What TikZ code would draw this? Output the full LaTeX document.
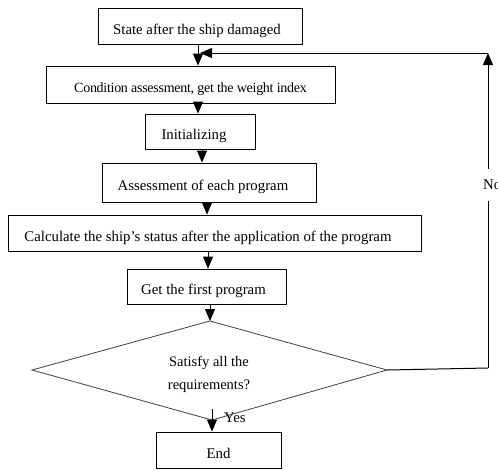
\documentclass[tikz,border=0pt]{standalone}
\usepackage{fontspec}
\setmainfont{Liberation Serif}
\usetikzlibrary{arrows.meta}
\begin{document}
\begin{tikzpicture}[x=1pt,y=-1pt,
  box/.style={draw=black,line width=0.9pt,minimum width=#1,inner sep=0pt,text height=17pt,text depth=1pt,font=\fontsize{14.8}{17}\selectfont},
  arr/.style={line width=1pt,-{Triangle[width=10pt,length=12pt]}},
  lbl/.style={font=\fontsize{14.8}{17}\selectfont,inner sep=1pt}]
\useasboundingbox (0,0) rectangle (498,469);
\node[box=204pt,minimum height=36pt] (b1) at (200,26) {State after the ship damaged\hspace*{6pt}};
\node[box=289pt,minimum height=37pt,font=\fontsize{14}{17}\selectfont\addfontfeatures{LetterSpace=-2}] (b2) at (190.5,84.5) {Condition assessment, get the weight index};
\node[box=110pt,minimum height=35pt] (b3) at (200,131.5) {Initializing\hspace*{12pt}};
\node[box=214pt,minimum height=39pt] (b4) at (209,182.5) {Assessment of each program\hspace*{12pt}};
\node[box=413pt,minimum height=36pt] (b5) at (214.5,233) {Calculate the ship's status after the application of the program\hspace*{13pt}};
\node[box=159pt,minimum height=35pt] (b6) at (206.5,286.5) {Get the first program\hspace*{6pt}};
\coordinate (dt) at (210,321);
\coordinate (dr) at (387,370);
\coordinate (db) at (212,420);
\coordinate (dl) at (32,370);
\draw[draw=black!75,line width=0.8pt] (dt) -- (dr) -- (db) -- (dl) -- cycle;
\node[align=center,inner sep=0pt,font=\fontsize{14.5}{23}\selectfont] (d) at (209,374) {Satisfy all the\\requirements?};
\node[box=125pt,minimum height=36pt] (e) at (218.5,450) {End};
\coordinate (c1) at (488,368);
\coordinate (c2) at (488,53);
\coordinate (c3) at (200,53);
\draw[arr] ([xshift=-2pt]b1.south) -- ([xshift=-2pt]b1.south |- b2.north);
\draw[arr] ([xshift=7.5pt]b2.south) -- ([xshift=7.5pt]b2.south |- b3.north);
\draw[arr] ([xshift=2pt]b3.south) -- ([xshift=2pt]b3.south |- b4.north);
\draw[arr] ([xshift=-2pt]b4.south) -- ([xshift=-2pt]b4.south |- b5.north);
\draw[arr] ([xshift=-6.5pt]b5.south) -- ([xshift=-6.5pt]b5.south |- b6.north);
\draw[arr] (b6.south -| dt) -- (dt);
\draw[arr] ([yshift=11pt]db) -- (db |- e.north);
\draw[line width=1pt] (dr) -- (c1);
\draw[arr] (c1) -- (c2);
\draw[arr] (c2) -- (c3);
\node[lbl,fill=white,anchor=west,minimum height=32pt] (no) at (482,185) {No};
\node[lbl,anchor=west] (yes) at (223,418) {Yes};
\end{tikzpicture}
\end{document}
